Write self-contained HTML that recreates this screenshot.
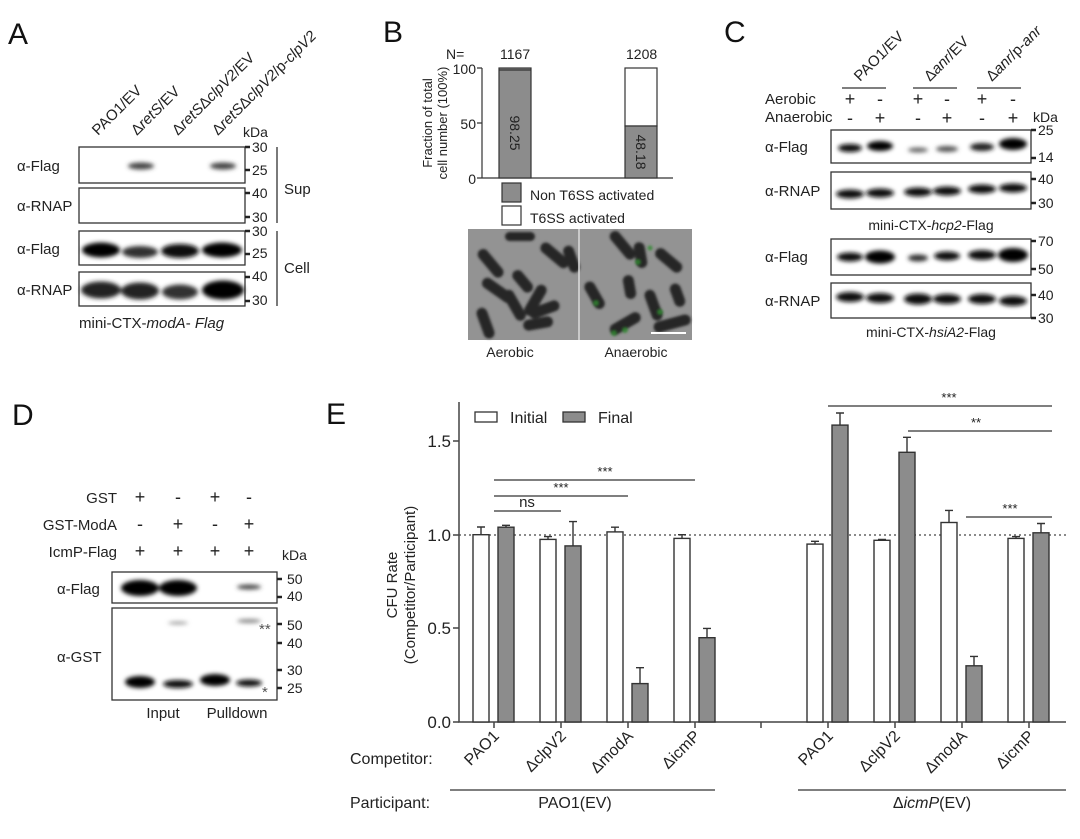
<!DOCTYPE html>
<html><head><meta charset="utf-8"><style>
html,body{margin:0;padding:0;background:#fff}
svg{display:block;font-family:"Liberation Sans",sans-serif}
</style></head><body>
<svg width="1080" height="839" viewBox="0 0 1080 839" xmlns="http://www.w3.org/2000/svg">
<defs>
<filter id="b1" x="-50%" y="-200%" width="200%" height="500%"><feGaussianBlur stdDeviation="2"/></filter>
<filter id="b2" x="-50%" y="-200%" width="200%" height="500%"><feGaussianBlur stdDeviation="1.2"/></filter>
</defs>
<g fill="#111">
<text x="8" y="44" font-size="30">A</text>
<text x="383" y="42" font-size="30">B</text>
<text x="724" y="42" font-size="30">C</text>
<text x="12" y="425" font-size="30">D</text>
<text x="326" y="424" font-size="30">E</text>
</g>

<!-- Panel A -->
<g font-size="15" fill="#222">
<text transform="translate(98,136) rotate(-45)">PAO1/EV</text>
<text transform="translate(137,136) rotate(-45)">Δ<tspan font-style="italic">retS</tspan>/EV</text>
<text transform="translate(178,136) rotate(-45)">Δ<tspan font-style="italic">retS</tspan>Δ<tspan font-style="italic">clpV2</tspan>/EV</text>
<text transform="translate(218,136) rotate(-45)">Δ<tspan font-style="italic">retS</tspan>Δ<tspan font-style="italic">clpV2</tspan>/p-<tspan font-style="italic">clpV2</tspan></text>
<text x="243" y="137" font-size="14">kDa</text>
<text x="17" y="171">α-Flag</text>
<text x="17" y="211">α-RNAP</text>
<text x="17" y="254">α-Flag</text>
<text x="17" y="295">α-RNAP</text>
<text x="284" y="194">Sup</text>
<text x="284" y="273">Cell</text>
<text x="79" y="328">mini-CTX-<tspan font-style="italic">modA</tspan>- <tspan font-style="italic">Flag</tspan></text>
<g font-size="14"><text x="252" y="152">30</text><text x="252" y="175">25</text><text x="252" y="198">40</text><text x="252" y="222">30</text><text x="252" y="236">30</text><text x="252" y="258">25</text><text x="252" y="281">40</text><text x="252" y="305">30</text></g>
</g>
<g stroke="#333" fill="none" stroke-width="1.3">
<rect x="79" y="147" width="166" height="36"/><rect x="79" y="188" width="166" height="35"/>
<rect x="79" y="231" width="166" height="34"/><rect x="79" y="272" width="166" height="34"/>
<line x1="277" y1="147" x2="277" y2="223"/><line x1="277" y1="231" x2="277" y2="306"/>
</g>
<g stroke="#222" stroke-width="2.5"><path d="M245 147h5M245 170h5M245 193h5M245 217h5M245 231h5M245 254h5M245 277h5M245 301h5"/></g>
<g fill="#222" filter="url(#b1)">
<ellipse cx="141" cy="166" rx="13" ry="3.5" fill="#444"/><ellipse cx="223" cy="166" rx="13" ry="3.5" fill="#444"/>
<ellipse cx="101" cy="250" rx="19" ry="7.5" fill="#000"/><ellipse cx="140" cy="252" rx="18" ry="6" fill="#333"/><ellipse cx="180" cy="251" rx="19" ry="7" fill="#111"/><ellipse cx="222" cy="250" rx="20" ry="7.5" fill="#000"/>
<ellipse cx="101" cy="290" rx="20" ry="8.5" fill="#222"/><ellipse cx="140" cy="291" rx="19" ry="8.5" fill="#222"/><ellipse cx="180" cy="292" rx="18" ry="7.5" fill="#333"/><ellipse cx="223" cy="290" rx="21" ry="9.5" fill="#000"/>
</g>

<!-- Panel B -->
<g font-size="14" fill="#222">
<text x="446" y="59">N=</text><text x="500" y="59">1167</text><text x="626" y="59">1208</text>
<text x="476" y="74" text-anchor="end">100</text><text x="476" y="129" text-anchor="end">50</text><text x="476" y="184" text-anchor="end">0</text>
<text transform="translate(432,123) rotate(-90)" text-anchor="middle" font-size="13">Fraction of total</text>
<text transform="translate(447,123) rotate(-90)" text-anchor="middle" font-size="13">cell number (100%)</text>
<text x="530" y="200">Non T6SS activated</text><text x="530" y="223">T6SS activated</text>
<text x="510" y="357" text-anchor="middle">Aerobic</text><text x="636" y="357" text-anchor="middle">Anaerobic</text>
</g>
<g stroke="#333" stroke-width="1.2">
<path d="M482 68v110h191M477 68h5M477 123h5M477 178h5" fill="none"/>
<rect x="499" y="68" width="32" height="110" fill="#8c8c8c"/><line x1="499" y1="70" x2="531" y2="70"/>
<rect x="625" y="68" width="32" height="58" fill="#fff"/><rect x="625" y="126" width="32" height="52" fill="#8c8c8c"/>
<rect x="502" y="183" width="19" height="19" fill="#8c8c8c"/><rect x="502" y="206" width="19" height="19" fill="#fff"/>
</g>
<text transform="translate(510,133) rotate(90)" text-anchor="middle" font-size="14" fill="#222">98.25</text>
<text transform="translate(636,152) rotate(90)" text-anchor="middle" font-size="14" fill="#222">48.18</text>
<rect x="468" y="229" width="224" height="111" fill="#939393"/>
<g fill="#252525" filter="url(#b2)">
<rect x="474" y="258" width="34" height="11" rx="5.5" transform="rotate(50 491 263)"/>
<rect x="480" y="285" width="36" height="11" rx="5.5" transform="rotate(35 498 290)"/>
<rect x="470" y="318" width="32" height="11" rx="5.5" transform="rotate(70 486 323)"/>
<rect x="498" y="300" width="34" height="11" rx="5.5" transform="rotate(60 515 305)"/>
<rect x="510" y="276" width="26" height="11" rx="5.5" transform="rotate(50 523 281)"/>
<rect x="518" y="295" width="34" height="11" rx="5.5" transform="rotate(-60 535 300)"/>
<rect x="528" y="304" width="32" height="11" rx="5.5" transform="rotate(-20 544 309)"/>
<rect x="523" y="318" width="30" height="11" rx="5.5" transform="rotate(-10 538 323)"/>
<rect x="538" y="250" width="34" height="11" rx="5.5" transform="rotate(40 555 255)"/>
<rect x="558" y="254" width="28" height="11" rx="5.5" transform="rotate(70 572 259)"/>
<rect x="505" y="232" width="30" height="9" rx="4.5"/>
<rect x="606" y="240" width="34" height="11" rx="5.5" transform="rotate(50 623 245)"/>
<rect x="628" y="250" width="26" height="11" rx="5.5" transform="rotate(80 641 255)"/>
<rect x="653" y="255" width="32" height="11" rx="5.5" transform="rotate(40 669 260)"/>
<rect x="580" y="290" width="30" height="11" rx="5.5" transform="rotate(60 595 295)"/>
<rect x="618" y="282" width="24" height="11" rx="5.5" transform="rotate(80 630 287)"/>
<rect x="638" y="300" width="32" height="11" rx="5.5" transform="rotate(70 654 305)"/>
<rect x="608" y="318" width="34" height="11" rx="5.5" transform="rotate(-30 625 323)"/>
<rect x="653" y="318" width="38" height="11" rx="5.5" transform="rotate(-15 672 323)"/>
<rect x="666" y="290" width="24" height="11" rx="5.5" transform="rotate(70 678 295)"/>
</g>
<g fill="#2d8a2d" opacity="0.8" filter="url(#b2)">
<circle cx="596" cy="303" r="3"/><circle cx="638" cy="262" r="3"/><circle cx="614" cy="333" r="3"/><circle cx="660" cy="312" r="3"/><circle cx="625" cy="330" r="3"/><circle cx="650" cy="248" r="2.5"/>
</g>
<line x1="579" y1="229" x2="579" y2="340" stroke="#ddd" stroke-width="1.5"/>
<line x1="651" y1="333" x2="686" y2="333" stroke="#fff" stroke-width="2"/>

<!-- Panel C -->
<g font-size="15" fill="#222">
<text transform="translate(860,82) rotate(-45)">PAO1/EV</text>
<text transform="translate(930,82) rotate(-45)">Δ<tspan font-style="italic">anr</tspan>/EV</text>
<text transform="translate(992,82) rotate(-45)">Δ<tspan font-style="italic">anr</tspan>/p-<tspan font-style="italic">anr</tspan></text>
<text x="765" y="104">Aerobic</text><text x="765" y="122">Anaerobic</text>
<text x="1033" y="122" font-size="14">kDa</text>
<g font-size="18" text-anchor="middle"><text x="850" y="105">+</text><text x="880" y="105">-</text><text x="918" y="105">+</text><text x="947" y="105">-</text><text x="982" y="105">+</text><text x="1013" y="105">-</text>
<text x="850" y="124">-</text><text x="880" y="124">+</text><text x="918" y="124">-</text><text x="947" y="124">+</text><text x="982" y="124">-</text><text x="1013" y="124">+</text></g>
<text x="765" y="152">α-Flag</text><text x="765" y="196">α-RNAP</text><text x="765" y="262">α-Flag</text><text x="765" y="306">α-RNAP</text>
<text x="931" y="230" text-anchor="middle" font-size="14">mini-CTX-<tspan font-style="italic">hcp2</tspan>-Flag</text>
<text x="931" y="337" text-anchor="middle" font-size="14">mini-CTX-<tspan font-style="italic">hsiA2</tspan>-Flag</text>
<g font-size="14"><text x="1038" y="135">25</text><text x="1038" y="162">14</text><text x="1038" y="184">40</text><text x="1038" y="208">30</text><text x="1038" y="246">70</text><text x="1038" y="274">50</text><text x="1038" y="300">40</text><text x="1038" y="323">30</text></g>
</g>
<g stroke="#333" fill="none" stroke-width="1.3">
<path d="M842 88h44M913 88h44M977 88h44"/>
<rect x="831" y="130" width="200" height="33"/><rect x="831" y="172" width="200" height="37"/>
<rect x="831" y="239" width="200" height="36"/><rect x="831" y="283" width="200" height="35"/>
</g>
<g stroke="#222" stroke-width="2.5"><path d="M1031 130h5M1031 158h5M1031 179h5M1031 203h5M1031 241h5M1031 269h5M1031 295h5M1031 318h5"/></g>
<g filter="url(#b1)">
<ellipse cx="850" cy="148" rx="12" ry="4" fill="#111"/><ellipse cx="880" cy="146" rx="13" ry="5" fill="#000"/><ellipse cx="918" cy="150" rx="10" ry="2.5" fill="#666"/><ellipse cx="947" cy="149" rx="11" ry="3" fill="#555"/><ellipse cx="982" cy="147" rx="12" ry="4" fill="#222"/><ellipse cx="1013" cy="144" rx="14" ry="6" fill="#000"/>
<ellipse cx="850" cy="194" rx="14" ry="4.5" fill="#111"/><ellipse cx="880" cy="193" rx="14" ry="4.5" fill="#111"/><ellipse cx="918" cy="192" rx="14" ry="4.5" fill="#111"/><ellipse cx="947" cy="191" rx="14" ry="4.5" fill="#111"/><ellipse cx="982" cy="189" rx="14" ry="4.5" fill="#111"/><ellipse cx="1013" cy="188" rx="14" ry="4.5" fill="#111"/>
<ellipse cx="850" cy="257" rx="13" ry="4.5" fill="#111"/><ellipse cx="880" cy="257" rx="15" ry="6.5" fill="#000"/><ellipse cx="918" cy="258" rx="10" ry="3.5" fill="#333"/><ellipse cx="947" cy="256" rx="13" ry="4.5" fill="#111"/><ellipse cx="982" cy="255" rx="14" ry="5" fill="#111"/><ellipse cx="1013" cy="255" rx="15" ry="7" fill="#000"/>
<ellipse cx="850" cy="297" rx="14" ry="5" fill="#111"/><ellipse cx="880" cy="298" rx="14" ry="5" fill="#111"/><ellipse cx="918" cy="299" rx="14" ry="5.5" fill="#111"/><ellipse cx="947" cy="299" rx="14" ry="5" fill="#111"/><ellipse cx="982" cy="299" rx="14" ry="5" fill="#111"/><ellipse cx="1013" cy="301" rx="14" ry="5" fill="#111"/>
</g>

<!-- Panel D -->
<g font-size="15" fill="#222">
<text x="117" y="503" text-anchor="end">GST</text><text x="117" y="530" text-anchor="end">GST-ModA</text><text x="117" y="557" text-anchor="end">IcmP-Flag</text>
<g font-size="18" text-anchor="middle"><text x="140" y="503">+</text><text x="178" y="503">-</text><text x="215" y="503">+</text><text x="249" y="503">-</text>
<text x="140" y="530">-</text><text x="178" y="530">+</text><text x="215" y="530">-</text><text x="249" y="530">+</text>
<text x="140" y="557">+</text><text x="178" y="557">+</text><text x="215" y="557">+</text><text x="249" y="557">+</text></g>
<text x="282" y="560" font-size="14">kDa</text>
<text x="57" y="594">α-Flag</text><text x="57" y="662">α-GST</text>
<text x="163" y="718" text-anchor="middle">Input</text><text x="237" y="718" text-anchor="middle">Pulldown</text>
<g font-size="14"><text x="287" y="584">50</text><text x="287" y="601">40</text><text x="287" y="630">50</text><text x="287" y="648">40</text><text x="287" y="675">30</text><text x="287" y="693">25</text></g>
<text x="259" y="634" font-size="15" fill="#555">**</text><text x="262" y="697" font-size="15" fill="#555">*</text>
</g>
<g stroke="#333" fill="none" stroke-width="1.3"><rect x="112" y="572" width="165" height="31"/><rect x="112" y="608" width="165" height="92"/></g>
<g stroke="#222" stroke-width="2.5"><path d="M277 579h5M277 597h5M277 624h5M277 643h5M277 670h5M277 688h5"/></g>
<g filter="url(#b1)">
<ellipse cx="140" cy="588" rx="19" ry="8" fill="#000"/><ellipse cx="178" cy="588" rx="19" ry="8" fill="#000"/><ellipse cx="249" cy="587" rx="12" ry="2.5" fill="#444"/>
<ellipse cx="178" cy="623" rx="10" ry="1.5" fill="#999"/><ellipse cx="249" cy="621" rx="12" ry="2" fill="#888"/>
<ellipse cx="140" cy="682" rx="15" ry="6" fill="#000"/><ellipse cx="178" cy="684" rx="15" ry="4" fill="#111"/><ellipse cx="215" cy="680" rx="15" ry="6" fill="#000"/><ellipse cx="249" cy="683" rx="13" ry="3.5" fill="#111"/>
</g>

<!-- Panel E -->
<g stroke="#444" stroke-width="1.5" fill="none">
<path d="M459 402V722H1066"/>
<path d="M453 441h6M453 535h6M453 628h6M453 722h6"/>
<path d="M494 722v6M561 722v6M628 722v6M695 722v6M761 722v6M828 722v6M895 722v6M962 722v6M1029 722v6"/>
</g>
<line x1="459" y1="535" x2="1066" y2="535" stroke="#444" stroke-width="1.2" stroke-dasharray="2,3"/>
<g font-size="17" fill="#222" text-anchor="end"><text x="451" y="447">1.5</text><text x="451" y="541">1.0</text><text x="451" y="634">0.5</text><text x="451" y="728">0.0</text></g>
<text transform="translate(397,585) rotate(-90)" text-anchor="middle" font-size="15" fill="#222">CFU Rate</text>
<text transform="translate(415,585) rotate(-90)" text-anchor="middle" font-size="15" fill="#222">(Competitor/Participant)</text>
<g stroke="#333" stroke-width="1.3">
<rect x="475" y="412" width="22" height="10" fill="#fff"/><rect x="563" y="412" width="22" height="10" fill="#8c8c8c"/>
</g>
<g font-size="16" fill="#222"><text x="510" y="423">Initial</text><text x="598" y="423">Final</text></g>
<g stroke="#333" stroke-width="1.4">
<g fill="#fff">
<rect x="473" y="534.7" width="16" height="187.3"/><rect x="540" y="539.4" width="16" height="182.6"/><rect x="607" y="531.9" width="16" height="190.1"/><rect x="674" y="538.4" width="16" height="183.6"/>
<rect x="807" y="544.1" width="16" height="177.9"/><rect x="874" y="540.3" width="16" height="181.7"/><rect x="941" y="522.5" width="16" height="199.5"/><rect x="1008" y="538.4" width="16" height="183.6"/>
</g>
<g fill="#8c8c8c">
<rect x="498" y="527.2" width="16" height="194.8"/><rect x="565" y="545.9" width="16" height="176.1"/><rect x="632" y="683.6" width="16" height="38.4"/><rect x="699" y="637.7" width="16" height="84.3"/>
<rect x="832" y="425.1" width="16" height="296.9"/><rect x="899" y="452.3" width="16" height="269.7"/><rect x="966" y="665.8" width="16" height="56.2"/><rect x="1033" y="532.8" width="16" height="189.2"/>
</g>
<path fill="none" d="M481 534.7V527M477 527h8M506 527.2V525.3M502 525.3h8M548 539.4V536.6M544 536.6h8M573 545.9V521.6M569 521.6h8M615 531.9V527.2M611 527.2h8M640 683.6V667.7M636 667.7h8M682 538.4V534.7M678 534.7h8M707 637.7V628.4M703 628.4h8
M815 544.1V541.3M811 541.3h8M840 425.1V413M836 413h8M882 540.3V539.4M878 539.4h8M907 452.3V437.3M903 437.3h8M949 522.5V510.4M945 510.4h8M974 665.8V656.4M970 656.4h8M1016 538.4V536.6M1012 536.6h8M1041 532.8V523.5M1037 523.5h8"/>
<path fill="none" stroke-width="1.2" d="M494 511H561M494 496H628M494 480H695M828 406H1052M908 431H1052M966 517H1052M450 790H715M798 790H1066"/>
</g>
<g fill="#222" font-size="15">
<text x="527" y="507" text-anchor="middle">ns</text>
<text x="561" y="492" text-anchor="middle" font-size="13">***</text>
<text x="605" y="476" text-anchor="middle" font-size="13">***</text>
<text x="949" y="402" text-anchor="middle" font-size="13">***</text>
<text x="976" y="427" text-anchor="middle" font-size="13">**</text>
<text x="1010" y="513" text-anchor="middle" font-size="13">***</text>
</g>
<g font-size="16" fill="#222">
<text x="350" y="764">Competitor:</text>
<text x="350" y="808">Participant:</text>
<text x="575" y="808" text-anchor="middle">PAO1(EV)</text>
<text x="932" y="808" text-anchor="middle">Δ<tspan font-style="italic">icmP</tspan>(EV)</text>
<g text-anchor="end">
<text transform="translate(500,737) rotate(-45)">PAO1</text>
<text transform="translate(567,737) rotate(-45)">ΔclpV2</text>
<text transform="translate(634,737) rotate(-45)">ΔmodA</text>
<text transform="translate(701,737) rotate(-45)">ΔicmP</text>
<text transform="translate(834,737) rotate(-45)">PAO1</text>
<text transform="translate(901,737) rotate(-45)">ΔclpV2</text>
<text transform="translate(968,737) rotate(-45)">ΔmodA</text>
<text transform="translate(1035,737) rotate(-45)">ΔicmP</text>
</g>
</g>
</svg>
</body></html>
